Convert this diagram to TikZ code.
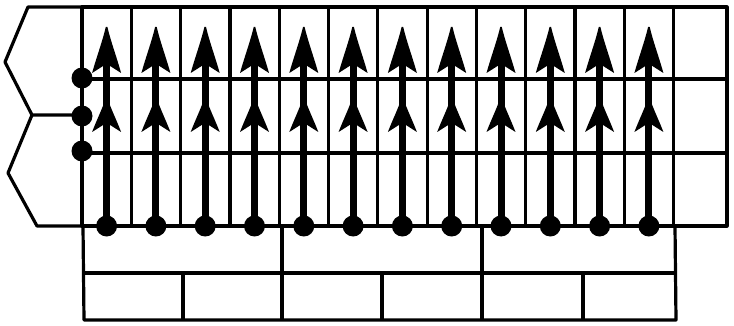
\documentclass[tikz,border=0pt]{standalone}
\begin{document}
\begin{tikzpicture}[x=1pt,y=-1pt,line join=round,
  gridline/.style={line width=3.2pt},
  shaft/.style={line width=7pt},
  blob/.style={circle,fill=black,inner sep=0pt,minimum size=21pt}]
\useasboundingbox (0,0) rectangle (734,326);
% upper grid
\draw[gridline] (82,7) rectangle (727,226);
\draw[gridline] (82,79) -- (727,79);
\draw[gridline] (82,153) -- (727,153);
\foreach \i in {1,...,12}{
  \draw[gridline] ({82+49.3*\i},7) -- ({82+49.3*\i},226);
}
% hexagon cells on the left
\draw[gridline] (82,7) -- (28,7) -- (5,62) -- (32,115) -- (82,115);
\draw[gridline] (32,115) -- (8,173) -- (37,226) -- (82,226);
% lower strips
\draw[gridline] (83,226) -- (84,320) -- (676,320) -- (675,226);
\draw[gridline] (84,273) -- (676,273);
\draw[gridline] (282,226) -- (282,320);
\draw[gridline] (482,226) -- (482,320);
\foreach \x in {183,382,583}{
  \draw[gridline] (\x,273) -- (\x,320);
}
% left dots
\node[blob] (l1) at (82,78) {};
\node[blob] (l2) at (82,116) {};
\node[blob] (l3) at (82,151) {};
% arrows
\foreach \i in {0,...,11}{
  \pgfmathsetmacro\cx{106.6+49.3*\i}
  \node[blob] (b\i) at (\cx,226) {};
  \draw[shaft] (b\i.center) -- (\cx,50);
  \foreach \yt/\L in {27/46,98/34}{
    \fill (\cx-0.8,\yt) -- (\cx+0.8,\yt) .. controls (\cx+4,\yt+0.3*\L) and (\cx+10,\yt+0.65*\L) .. (\cx+14.5,\yt+\L)
      -- (\cx+3.5,\yt+\L-7) -- (\cx-3.5,\yt+\L-7) -- (\cx-14.5,\yt+\L)
      .. controls (\cx-10,\yt+0.65*\L) and (\cx-4,\yt+0.3*\L) .. cycle;
  }
}
\end{tikzpicture}
\end{document}
